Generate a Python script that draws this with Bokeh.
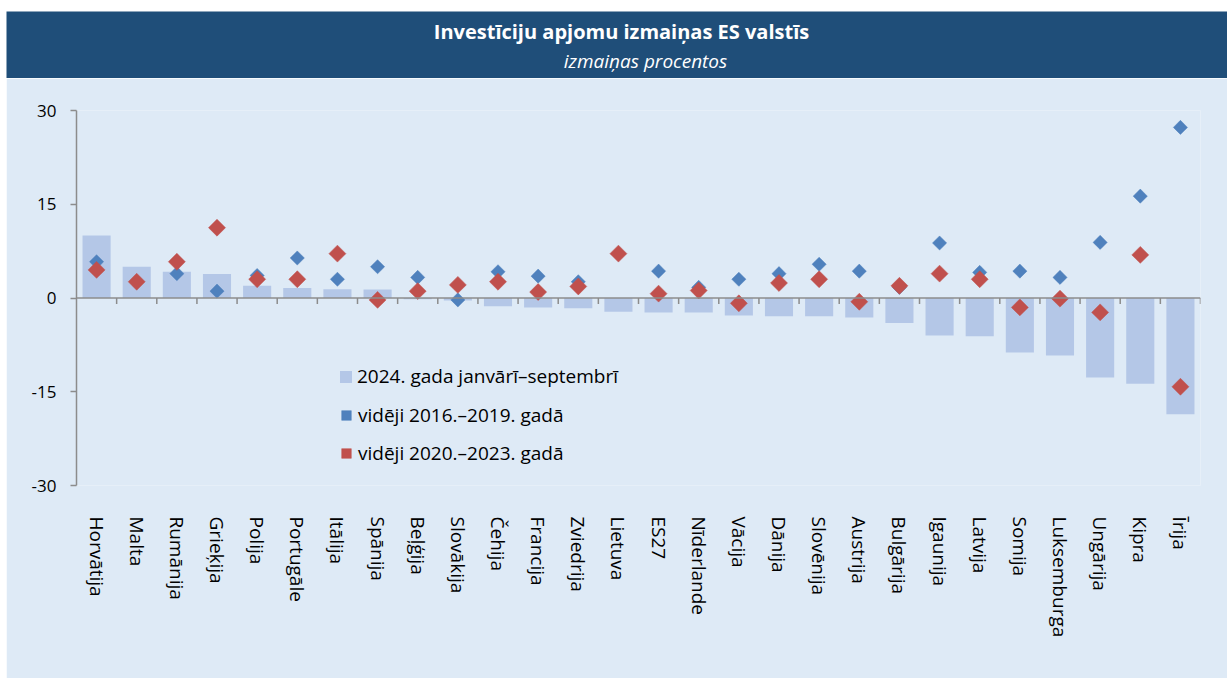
from bokeh.plotting import figure
from bokeh.models import Range1d, FixedTicker, Span, Legend, LegendItem, Spacer
from bokeh.layouts import column, row
from bokeh.core.properties import value
from bokeh.embed import file_html
from bokeh.resources import INLINE
import numpy as np

countries = ["Horvātija", "Malta", "Rumānija", "Grieķija", "Polija", "Portugāle", "Itālija",
             "Spānija", "Beļģija", "Slovākija", "Čehija", "Francija", "Zviedrija", "Lietuva",
             "ES27", "Nīderlande", "Vācija", "Dānija", "Slovēnija", "Austrija", "Bulgārija",
             "Igaunija", "Latvija", "Somija", "Luksemburga", "Ungārija", "Kipra", "Īrija"]
bars_2024 = [10.0, 5.0, 4.2, 3.85, 1.95, 1.6, 1.4, 1.35, -0.2, -0.4, -1.3, -1.5, -1.65, -2.2,
             -2.3, -2.3, -2.8, -2.9, -2.9, -3.1, -4.0, -6.0, -6.1, -8.7, -9.2, -12.7, -13.7, -18.6]
avg_2016_2019 = [5.8, 2.6, 3.9, 1.1, 3.6, 6.4, 3.0, 5.0, 3.3, -0.3, 4.2, 3.5, 2.6, 7.1,
                 4.3, 1.7, 3.0, 3.9, 5.4, 4.3, 1.7, 8.8, 4.1, 4.3, 3.3, 8.9, 16.3, 27.3]
avg_2020_2023 = [4.5, 2.6, 5.8, 11.25, 3.0, 3.0, 7.1, -0.3, 1.1, 2.1, 2.6, 0.95, 1.85, 7.1,
                 0.7, 1.2, -0.85, 2.4, 3.0, -0.6, 1.95, 3.9, 3.0, -1.5, -0.1, -2.3, 6.9, -14.2]
y_ticks = [-30, -15, 0, 15, 30]
y_tick_labels = ["-30", "-15", "0", "15", "30"]
title_text = "Investīciju apjomu izmaiņas ES valstīs"
subtitle_text = "izmaiņas procentos"
legend_labels = ["2024. gada janvārī–septembrī", "vidēji 2016.–2019. gadā", "vidēji 2020.–2023. gadā"]

HDR = "#1F4E79"
BG = "#DEEAF6"
BAR = "#B4C7E7"
BLUE = "#4F81BD"
RED = "#C0504D"
AX = "#8C8C8C"
FONT = "Open Sans"
W = 1221

# header: frame spans the whole header (screen x 6..1227)
header = figure(width=W, height=67, x_range=Range1d(6, 1227), y_range=Range1d(0, 67),
                toolbar_location=None, output_backend="svg",
                x_axis_location=None, y_axis_location=None, min_border=0)
header.frame_align = False
header.background_fill_color = HDR
header.border_fill_color = HDR
header.outline_line_color = None
header.grid.visible = False
header.text(x=[621], y=[47], text=[title_text], text_align="center", text_baseline="middle",
            text_color="white", text_font=value(FONT), text_font_style="bold", text_font_size="20px")
header.text(x=[645], y=[18], text=[subtitle_text], text_align="center", text_baseline="middle",
            text_color="white", text_font=value(FONT), text_font_style="italic", text_font_size="19px")

n = len(countries)
xc = np.arange(n) + 0.5

p = figure(width=W, height=600, x_range=Range1d(0, n), y_range=Range1d(-30, 30),
           toolbar_location=None, output_backend="svg",
           min_border_left=70, min_border_right=27, min_border_top=32, min_border_bottom=193)
p.background_fill_color = BG
p.border_fill_color = BG
p.outline_line_color = None
p.grid.visible = False

rb = p.vbar(x=xc, top=bars_2024, bottom=0, width=0.7, fill_color=BAR, line_color=None)
p.add_layout(Span(location=0, dimension="width", line_color=AX, line_width=1.5))
bnd = np.arange(1, n + 1)
p.segment(x0=bnd, x1=bnd, y0=0, y1=-0.96, line_color=AX, line_width=1.5)
r1 = p.scatter(x=xc, y=avg_2016_2019, marker="square", angle=np.pi / 4, size=10,
               fill_color=BLUE, line_color=BLUE, line_width=0.5)
r2 = p.scatter(x=xc, y=avg_2020_2023, marker="square", angle=np.pi / 4, size=12,
               fill_color=RED, line_color=RED, line_width=0.5)

# x axis (category labels)
xa = p.xaxis[0]
xa.ticker = FixedTicker(ticks=list(xc))
xa.major_label_overrides = {float(x): c for x, c in zip(xc, countries)}
xa.axis_line_color = None
xa.major_tick_line_color = None
xa.minor_tick_line_color = None
xa.major_tick_out = 0
xa.major_tick_in = 0
xa.major_label_orientation = "vertical"
xa.major_label_standoff = 31
xa.major_label_text_font = FONT
xa.major_label_text_font_size = "19px"
xa.major_label_text_color = "black"

ya = p.yaxis[0]
ya.ticker = FixedTicker(ticks=y_ticks)
ya.major_label_overrides = {t: s for t, s in zip(y_ticks, y_tick_labels)}
ya.axis_line_color = AX
ya.axis_line_width = 1.5
ya.major_tick_line_color = AX
ya.major_tick_line_width = 1.5
ya.major_tick_out = 6
ya.major_tick_in = 0
ya.minor_tick_line_color = None
ya.major_label_standoff = 14
ya.major_label_text_font = FONT
ya.major_label_text_font_size = "17px"
ya.major_label_text_color = "black"

common = dict(orientation="vertical", background_fill_alpha=0, border_line_color=None,
              padding=0, margin=0, label_height=16, label_text_font=FONT,
              label_text_font_size="19px", label_text_color="black")
leg1 = Legend(items=[LegendItem(label=legend_labels[0], renderers=[rb])],
              location=(262, 96), glyph_width=15, glyph_height=15, spacing=12,
              label_standoff=4, **common)
leg2 = Legend(items=[LegendItem(label=legend_labels[1], renderers=[r1]),
                     LegendItem(label=legend_labels[2], renderers=[r2])],
              location=(258, 19), glyph_width=24, glyph_height=24, spacing=12,
              label_standoff=0, **common)
p.add_layout(leg1)
p.add_layout(leg2)

layout = row(Spacer(width=6), column(Spacer(height=11), header, p, spacing=0), spacing=0)
open("out.html", "w").write(file_html(layout, INLINE))
